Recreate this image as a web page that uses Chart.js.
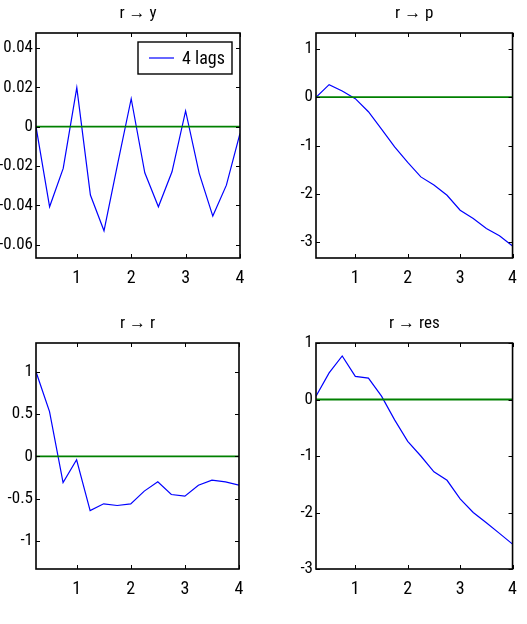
<!DOCTYPE html>
<html>
<head>
    <title>IRF</title>
    <script src="https://cdn.jsdelivr.net/npm/chart.js"></script>
    <style>
        body { margin: 0; background: #fff; }
        .panel { position: absolute; }
    </style>
</head>
<body>
    <canvas id="pY" class="panel"></canvas>
    <canvas id="pP" class="panel"></canvas>
    <canvas id="pR" class="panel"></canvas>
    <canvas id="pRes" class="panel"></canvas>

    <script>
        // horizon (years, quarterly steps)
        const lags = [0.25, 0.5, 0.75, 1, 1.25, 1.5, 1.75, 2, 2.25, 2.5, 2.75, 3, 3.25, 3.5, 3.75, 4];
        const xTicks = [1, 2, 3, 4];

        // responses to an r shock
        const rToY = [0, -0.0407, -0.0212, 0.0198, -0.0347, -0.0529, -0.019, 0.0142, -0.0234, -0.0407, -0.0229, 0.008, -0.0237, -0.0454, -0.0297, -0.0034];
        const rToP = [0, 0.26, 0.13, -0.03, -0.30, -0.66, -1.03, -1.35, -1.65, -1.82, -2.03, -2.34, -2.51, -2.72, -2.87, -3.08];
        const rToR = [1.0, 0.53, -0.31, -0.04, -0.64, -0.56, -0.58, -0.56, -0.41, -0.30, -0.45, -0.47, -0.34, -0.28, -0.30, -0.34];
        const rToRes = [0.06, 0.47, 0.77, 0.41, 0.38, 0.06, -0.36, -0.74, -1.0, -1.28, -1.43, -1.76, -2.0, -2.18, -2.37, -2.56];

        // zero reference line
        const zeroX = [0.25, 4];
        const zeroY = [0, 0];

        const yTicksY = [-0.06, -0.04, -0.02, 0, 0.02, 0.04];
        const yTicksP = [-3, -2, -1, 0, 1];
        const yTicksR = [-1, -0.5, 0, 0.5, 1];
        const yTicksRes = [-3, -2, -1, 0, 1];

        const seriesLabel = '4 lags';
        const FONT = "'Roboto Condensed', 'Liberation Sans', sans-serif";

        // box, inward ticks on all sides, boxed legend
        const frame = {
            id: 'frame',
            afterDatasetsDraw(chart, args, opts) {
                const ctx = chart.ctx;
                const a = chart.chartArea;
                const x = chart.scales.x, y = chart.scales.y;
                ctx.save();
                ctx.strokeStyle = '#000';
                ctx.lineWidth = 1;
                ctx.beginPath();
                x.ticks.forEach(t => {
                    const px = Math.round(x.getPixelForValue(t.value)) + 0.5;
                    ctx.moveTo(px, a.bottom); ctx.lineTo(px, a.bottom - 4);
                    ctx.moveTo(px, a.top); ctx.lineTo(px, a.top + 4);
                });
                y.ticks.forEach(t => {
                    const py = Math.round(y.getPixelForValue(t.value)) + 0.5;
                    ctx.moveTo(a.left, py); ctx.lineTo(a.left + 4, py);
                    ctx.moveTo(a.right, py); ctx.lineTo(a.right - 4, py);
                });
                ctx.stroke();
                ctx.lineWidth = 1.6;
                ctx.strokeRect(a.left, a.top, a.right - a.left, a.bottom - a.top);

                if (opts.legend) {
                    const ds = chart.data.datasets.find(d => d.label);
                    const bw = 94, bh = 32;
                    const bx = a.right - 8 - bw, by = a.top + 9;
                    ctx.fillStyle = '#fff';
                    ctx.fillRect(bx, by, bw, bh);
                    ctx.lineWidth = 1.4;
                    ctx.strokeRect(bx, by, bw, bh);
                    ctx.strokeStyle = ds.borderColor;
                    ctx.lineWidth = ds.borderWidth;
                    ctx.beginPath();
                    ctx.moveTo(bx + 11, by + bh / 2);
                    ctx.lineTo(bx + 36, by + bh / 2);
                    ctx.stroke();
                    ctx.fillStyle = '#000';
                    ctx.font = '18px ' + FONT;
                    ctx.textBaseline = 'middle';
                    ctx.fillText(ds.label, bx + 44, by + bh / 2 + 1);
                }
                ctx.restore();
            }
        };

        function makePanel(id, pos, area, title, values, yMin, yMax, yTicks, legend) {
            const cv = document.getElementById(id);
            cv.style.left = pos.left + 'px';
            cv.style.top = pos.top + 'px';
            cv.style.width = pos.w + 'px';
            cv.style.height = pos.h + 'px';
            cv.width = pos.w;
            cv.height = pos.h;

            const yAxisW = area.l - pos.left;
            const padRight = pos.left + pos.w - area.r;
            const titleH = area.t - pos.top;
            const xAxisH = pos.top + pos.h - area.b;

            return new Chart(cv, {
                type: 'line',
                data: {
                    datasets: [{
                        data: zeroX.map((v, i) => ({ x: v, y: zeroY[i] })),
                        borderColor: '#008000',
                        borderWidth: 1.8,
                        pointRadius: 0,
                        order: 0
                    }, {
                        label: legend ? seriesLabel : undefined,
                        data: lags.map((v, i) => ({ x: v, y: values[i] })),
                        borderColor: '#0000ff',
                        borderWidth: 1.2,
                        pointRadius: 0,
                        tension: 0,
                        order: 1
                    }]
                },
                plugins: [frame],
                options: {
                    responsive: false,
                    animation: false,
                    layout: { padding: { left: 0, right: padRight, top: 0, bottom: 0 } },
                    plugins: {
                        legend: { display: false },
                        tooltip: { enabled: false },
                        title: {
                            display: true,
                            text: title,
                            color: '#000',
                            fullSize: false,
                            font: { family: FONT, size: 17, weight: 'normal', lineHeight: 1.2 },
                            padding: { top: titleH - 20.4 - 9, bottom: 9 }
                        },
                        frame: { legend: legend }
                    },
                    scales: {
                        x: {
                            type: 'linear',
                            min: 0.25,
                            max: 4,
                            afterBuildTicks: s => { s.ticks = xTicks.map(v => ({ value: v })); },
                            afterFit: s => { s.height = xAxisH; },
                            grid: { display: false, drawTicks: false },
                            border: { display: false },
                            ticks: {
                                color: '#000',
                                padding: 10,
                                maxRotation: 0,
                                font: { family: FONT, size: 18 },
                                callback: v => String(v)
                            }
                        },
                        y: {
                            min: yMin,
                            max: yMax,
                            afterBuildTicks: s => { s.ticks = yTicks.map(v => ({ value: v })); },
                            afterFit: s => { s.width = yAxisW; },
                            grid: { display: false, drawTicks: false },
                            border: { display: false },
                            ticks: {
                                color: '#000',
                                padding: 3,
                                font: { family: FONT, size: 17 },
                                callback: v => String(v)
                            }
                        }
                    }
                }
            });
        }

        makePanel('pY', { left: 0, top: 0, w: 263, h: 300 }, { l: 36, r: 240, t: 33, b: 258 },
            'r \u2192 y', rToY, -0.0667, 0.0476, yTicksY, true);
        makePanel('pP', { left: 280, top: 0, w: 247, h: 300 }, { l: 316, r: 520, t: 33, b: 258 },
            'r \u2192 p', rToP, -3.33, 1.33, yTicksP, false);
        makePanel('pR', { left: 0, top: 310, w: 263, h: 300 }, { l: 36, r: 239, t: 343, b: 569 },
            'r \u2192 r', rToR, -1.33, 1.34, yTicksR, false);
        makePanel('pRes', { left: 280, top: 310, w: 247, h: 300 }, { l: 316, r: 520, t: 343, b: 569 },
            'r \u2192 res', rToRes, -3, 1, yTicksRes, false);
    </script>
</body>
</html>
